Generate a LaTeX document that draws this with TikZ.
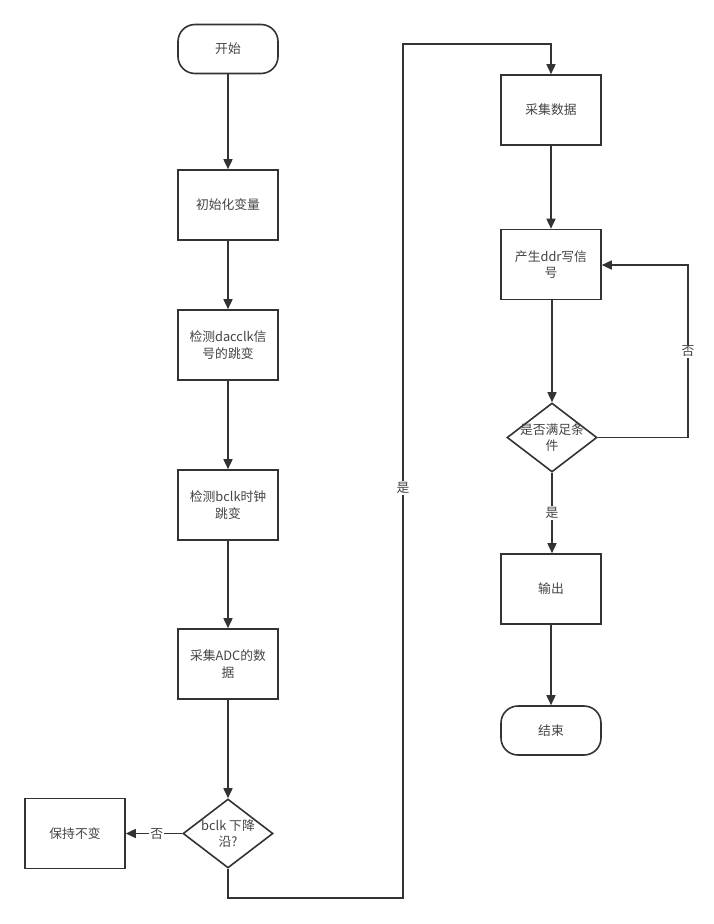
\documentclass[tikz,border=0pt]{standalone}
\usepackage{fontspec}
\setmainfont{Noto Sans CJK SC}
\usetikzlibrary{arrows.meta,shapes.geometric}
\definecolor{ln}{HTML}{333333}
\definecolor{tx}{HTML}{444444}
\begin{document}
\begin{tikzpicture}[x=1pt,y=-1pt,
  every node/.style={font=\fontsize{12.8}{16.5}\selectfont, text=tx},
  proc/.style={draw=ln, line width=1.6pt, fill=white, minimum width=100pt, minimum height=70pt, inner sep=0pt, align=center},
  term/.style={draw=ln, line width=1.6pt, fill=white, rounded corners=17pt, minimum width=100pt, minimum height=49pt, inner sep=0pt, align=center},
  dec/.style={draw=ln, line width=1.6pt, fill=white, shape=diamond, shape aspect=1.3, minimum width=90pt, minimum height=69pt, inner sep=0pt},
  txt/.style={align=center},
  conn/.style={draw=ln, line width=1.6pt, -{Triangle[length=10pt,width=9pt]}},
  lbl/.style={fill=white, inner sep=1pt}
]
\useasboundingbox (0,0) rectangle (713,924);
\node[term] (start) at (228,49) {开始};
\node[proc] (init) at (228,205) {初始化变量};
\node[proc] (dac) at (228,345) {检测dacclk信\\号的跳变};
\node[proc] (bclk) at (228,505) {检测bclk时钟\\跳变};
\node[proc] (adc) at (228,664) {采集ADC的数\\据};
\node[dec] (fall) at (228,833.5) {};
\node[txt] (fallt) at (228,833.5) {bclk 下降\\沿?};
\node[proc] (keep) at (75,833.5) {保持不变};
\node[proc] (col) at (551,110) {采集数据};
\node[proc] (ddr) at (551,264.5) {产生ddr写信\\号};
\node[dec] (cond) at (552,437.5) {};
\node[txt] (condt) at (552,437.5) {是否满足条\\件};
\node[proc] (out) at (551,589) {输出};
\node[term] (end) at (551,730.5) {结束};

\coordinate (c1) at (228,898);
\coordinate (c2) at (403,898);
\coordinate (c3) at (403,44);
\coordinate (c4) at (551,44);
\coordinate (r1) at (688,437.5);
\coordinate (r2) at (688,265);

\draw[conn] (start) -- (init);
\draw[conn] (init) -- (dac);
\draw[conn] (dac) -- (bclk);
\draw[conn] (bclk) -- (adc);
\draw[conn] (adc) -- (fall.north);
\draw[conn] (fall.west) -- node[lbl, pos=0.45] {否} (keep.east);
\draw[conn] (fall.south) -- (c1) -- (c2) -- node[lbl, pos=0.48] {是} (c3) -- (c4) -- (col.north);
\draw[conn] (col) -- (ddr);
\draw[conn] (ddr.south -| cond.north) -- (cond.north);
\draw[conn] (cond.east) -- (r1) -- node[lbl, pos=0.5] {否} (r2) -- (ddr.east |- r2);
\draw[conn] (cond.south) -- node[lbl, pos=0.5] {是} (out.north -| cond.south);
\draw[conn] (out) -- (end);
\end{tikzpicture}
\end{document}
